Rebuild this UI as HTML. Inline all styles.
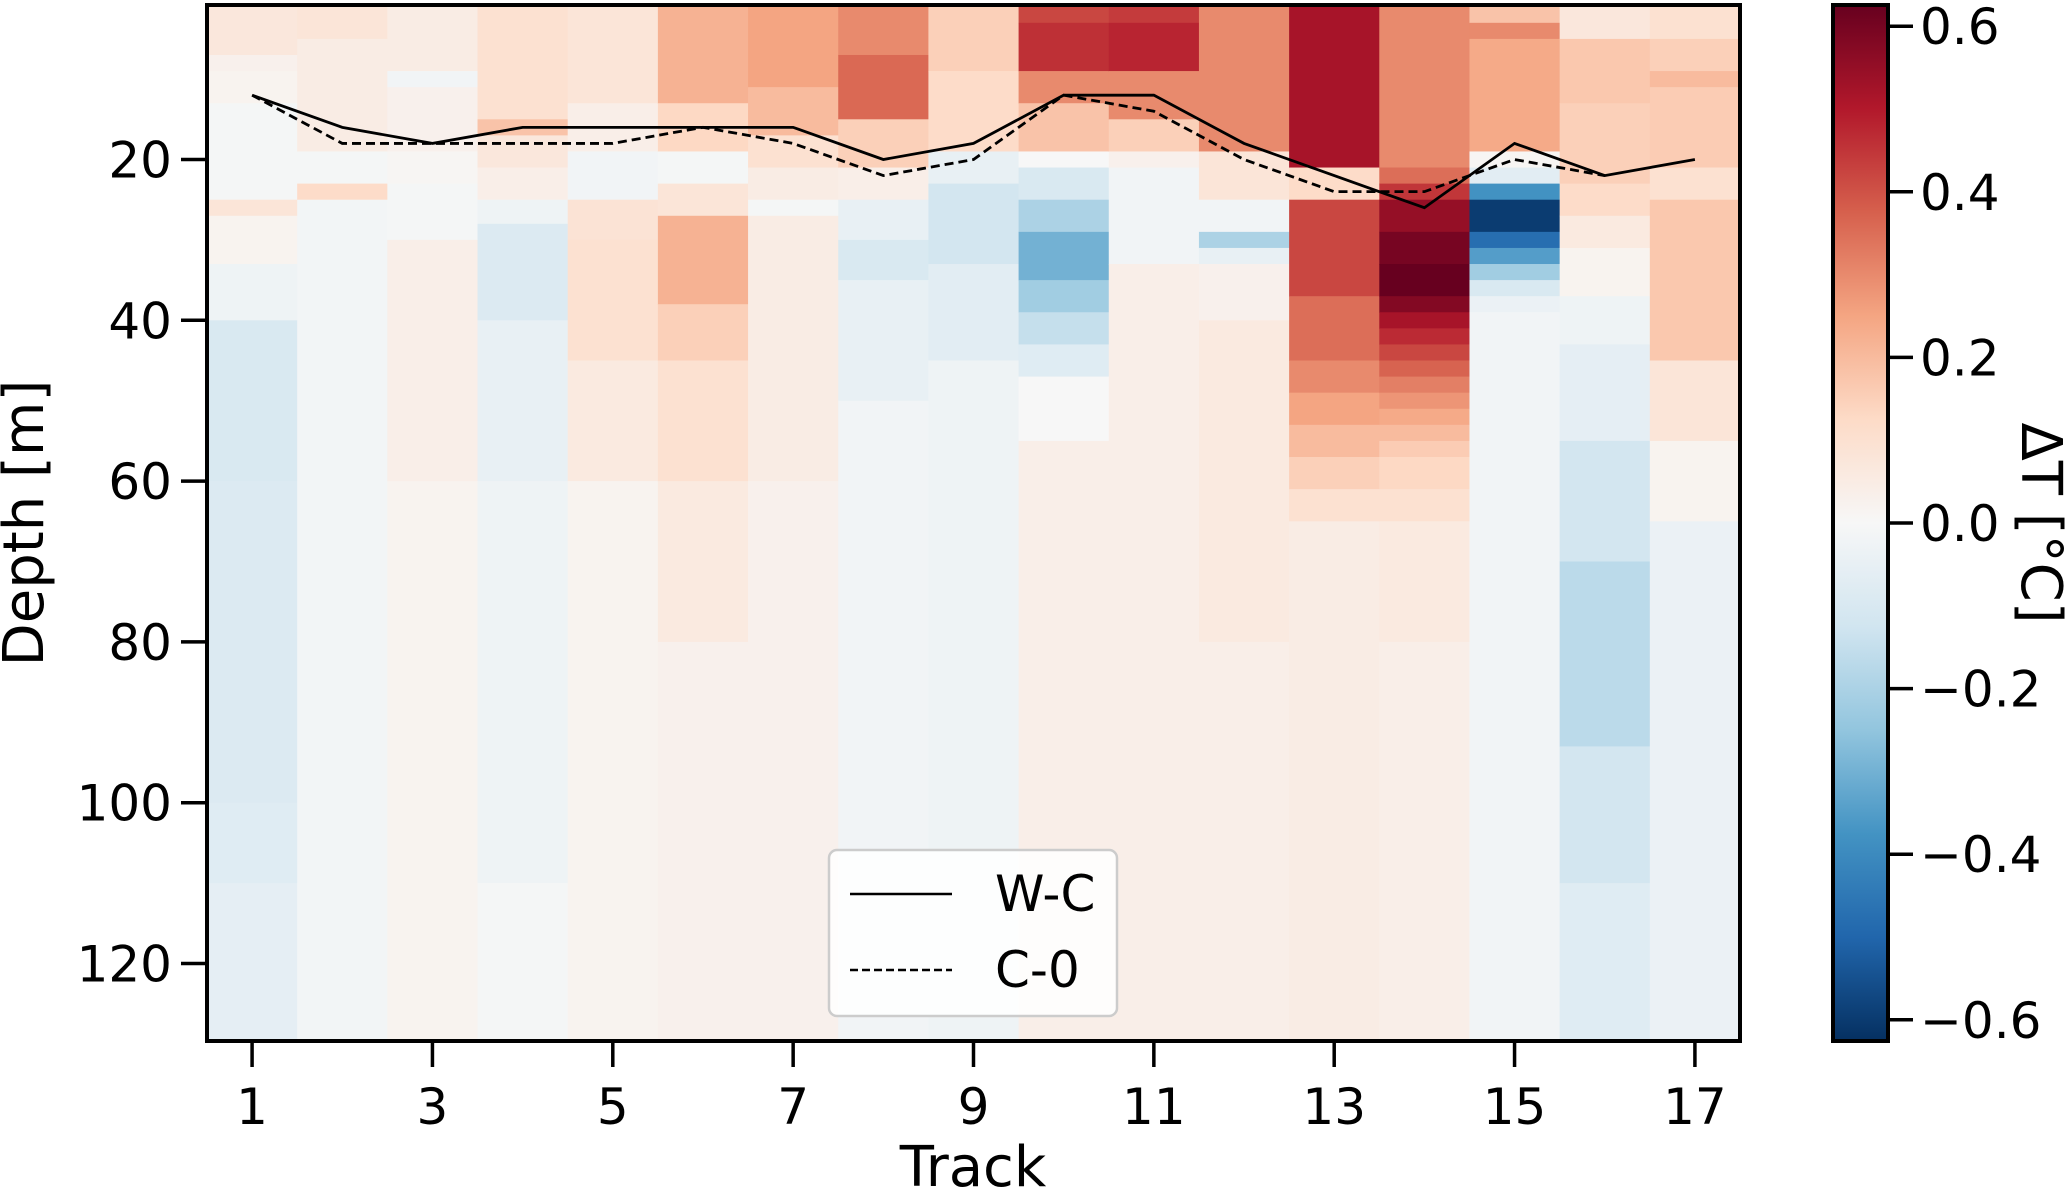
<!DOCTYPE html>
<html><head><meta charset="utf-8"><style>
html,body{margin:0;padding:0;background:#fff;}
svg{display:block;font-family:"DejaVu Sans","Liberation Sans",sans-serif;}
</style></head><body>
<svg id="chart" width="2067" height="1192" viewBox="0 0 2067 1192">
<defs>
<linearGradient id="cbgrad" x1="0" y1="1" x2="0" y2="0">
<stop offset="0" stop-color="#053061"/><stop offset="0.1" stop-color="#2166ac"/><stop offset="0.2" stop-color="#4393c3"/><stop offset="0.3" stop-color="#92c5de"/><stop offset="0.4" stop-color="#d1e5f0"/><stop offset="0.5" stop-color="#f7f7f7"/><stop offset="0.6" stop-color="#fddbc7"/><stop offset="0.7" stop-color="#f4a582"/><stop offset="0.8" stop-color="#d6604d"/><stop offset="0.9" stop-color="#b2182b"/><stop offset="1" stop-color="#67001f"/>
</linearGradient>
<clipPath id="plotclip"><rect x="207" y="5" width="1533" height="1036"/></clipPath>
</defs>
<g id="cells" clip-path="url(#plotclip)"></g>
<g id="lines" clip-path="url(#plotclip)"></g>
<rect x="207" y="5" width="1533" height="1036" fill="none" stroke="#000" stroke-width="4"/>
<g id="axes"></g>
<text x="28" y="523" font-size="56" text-anchor="middle" transform="rotate(-90 28 523)" dominant-baseline="middle">Depth [m]</text>
<text x="973" y="1186" font-size="56" text-anchor="middle">Track</text>
<g>
<rect x="829" y="850" width="288" height="166" rx="8" fill="#fff" fill-opacity="0.85" stroke="#ccc" stroke-width="2.5"/>
<line x1="850" y1="894" x2="952" y2="894" stroke="#000" stroke-width="2.5"/>
<text x="995" y="911" font-size="50">W-C</text>
<line x1="850" y1="970" x2="952" y2="970" stroke="#000" stroke-width="2.5" stroke-dasharray="8,4"/>
<text x="995" y="987" font-size="50">C-0</text>
</g>
<rect x="1833" y="5" width="55" height="1036" fill="url(#cbgrad)" stroke="#000" stroke-width="4"/>
<g id="cbaxis"></g>
<text x="2037" y="523" font-size="56" text-anchor="middle" transform="rotate(90 2037 523)" dominant-baseline="middle">ΔT [°C]</text>
</svg>
<script>
const tracks = [1,2,3,4,5,6,7,8,9,10,11,12,13,14,15,16,17];
const wcDepth = [12,16,18,16,16,16,16,20,18,12,12,18,22,26,18,22,20];
const c0Depth = [12,18,18,18,18,16,18,22,20,12,14,20,24,24,20,22];
const xTicks = [1,3,5,7,9,11,13,15,17];
const yTicks = [20,40,60,80,100,120];
const cbTicks = [0.6,0.4,0.2,0.0,-0.2,-0.4,-0.6];
const cbTickLabels = ["0.6","0.4","0.2","0.0","\u22120.2","\u22120.4","\u22120.6"];
// per-track depth segments [top, bottom, deltaT]
const deltaT = [
 [[0,7,0.07],[7,9,0.03],[9,13,0.02],[13,25,-0.01],[25,27,0.08],[27,33,0.02],[33,40,-0.03],[40,60,-0.1],[60,100,-0.09],[100,110,-0.08],[110,131,-0.06]],
 [[0,5,0.08],[5,19,0.05],[19,23,-0.01],[23,25,0.12],[25,131,-0.015]],
 [[0,9,0.05],[9,11,-0.02],[11,19,0.03],[19,23,0.01],[23,30,-0.01],[30,60,0.04],[60,131,0.02]],
 [[0,15,0.1],[15,17,0.18],[17,21,0.07],[21,25,0.04],[25,28,-0.03],[28,40,-0.09],[40,60,-0.05],[60,110,-0.03],[110,131,-0.01]],
 [[0,13,0.08],[13,19,0.04],[19,25,-0.02],[25,30,0.09],[30,45,0.1],[45,60,0.06],[60,131,0.02]],
 [[0,13,0.22],[13,19,0.13],[19,23,-0.01],[23,27,0.08],[27,38,0.22],[38,45,0.15],[45,60,0.1],[60,80,0.06],[80,131,0.03]],
 [[0,11,0.25],[11,17,0.2],[17,21,0.1],[21,25,0.05],[25,27,-0.01],[27,60,0.05],[60,131,0.03]],
 [[0,7,0.3],[7,15,0.36],[15,21,0.15],[21,25,0.04],[25,30,-0.05],[30,35,-0.1],[35,50,-0.05],[50,131,-0.02]],
 [[0,9,0.15],[9,19,0.12],[19,23,-0.05],[23,33,-0.12],[33,45,-0.07],[45,131,-0.03]],
 [[0,3,0.42],[3,9,0.46],[9,13,0.3],[13,19,0.18],[19,21,0.0],[21,25,-0.1],[25,29,-0.2],[29,35,-0.3],[35,39,-0.22],[39,43,-0.15],[43,47,-0.08],[47,55,0.0],[55,131,0.04]],
 [[0,3,0.44],[3,9,0.48],[9,15,0.3],[15,19,0.15],[19,21,0.03],[21,33,-0.02],[33,131,0.04]],
 [[0,19,0.3],[19,25,0.08],[25,29,-0.02],[29,31,-0.2],[31,33,-0.05],[33,40,0.03],[40,80,0.06],[80,131,0.04]],
 [[0,21,0.52],[21,25,0.12],[25,37,0.42],[37,45,0.35],[45,49,0.3],[49,53,0.25],[53,57,0.2],[57,61,0.15],[61,65,0.1],[65,131,0.05]],
 [[0,21,0.3],[21,23,0.35],[23,25,0.45],[25,29,0.55],[29,33,0.6],[33,37,0.63],[37,39,0.58],[39,41,0.52],[41,43,0.47],[43,45,0.42],[45,47,0.37],[47,49,0.32],[49,51,0.28],[51,53,0.24],[53,55,0.2],[55,57,0.16],[57,61,0.13],[61,65,0.1],[65,80,0.06],[80,131,0.04]],
 [[0,3,0.18],[3,5,0.3],[5,19,0.24],[19,21,0.01],[21,23,-0.07],[23,25,-0.38],[25,29,-0.6],[29,31,-0.48],[31,33,-0.35],[33,35,-0.22],[35,37,-0.1],[37,39,-0.04],[39,131,-0.02]],
 [[0,5,0.07],[5,13,0.17],[13,23,0.15],[23,27,0.12],[27,31,0.06],[31,37,0.02],[37,43,-0.03],[43,55,-0.06],[55,70,-0.12],[70,93,-0.17],[93,110,-0.12],[110,131,-0.08]],
 [[0,5,0.1],[5,9,0.15],[9,11,0.2],[11,21,0.16],[21,25,0.1],[25,45,0.17],[45,55,0.08],[55,65,0.02],[65,131,-0.04]]
];

const NS = "http://www.w3.org/2000/svg";
const X0 = 207, X1 = 1740, Y20 = 159.5, PXM = 8.04;
function xScale(t){ return X0 + (t - 0.5) * (X1 - X0) / 17; }
function yScale(d){ return Y20 + (d - 20) * PXM; }
function cbScale(v){ return 523 - v * 828; }
const cmap = ["#053061","#2166ac","#4393c3","#92c5de","#d1e5f0","#f7f7f7","#fddbc7","#f4a582","#d6604d","#b2182b","#67001f"];
function hex(c){ return [parseInt(c.slice(1,3),16),parseInt(c.slice(3,5),16),parseInt(c.slice(5,7),16)]; }
function color(v){
  let f = (v + 0.627) / 1.254; f = Math.max(0, Math.min(1, f));
  const p = f * 10, i = Math.min(9, Math.floor(p)), r = p - i;
  const a = hex(cmap[i]), b = hex(cmap[i+1]);
  return "rgb(" + a.map((q,k)=>Math.round(q + (b[k]-q)*r)).join(",") + ")";
}
function mk(tag, attrs, parent){
  const e = document.createElementNS(NS, tag);
  for (const k in attrs) e.setAttribute(k, attrs[k]);
  parent.appendChild(e); return e;
}
const cells = document.getElementById("cells");
tracks.forEach((t, i) => {
  deltaT[i].forEach(seg => {
    const r = mk("rect", {x: xScale(t - 0.5), y: yScale(seg[0]), width: xScale(t + 0.5) - xScale(t - 0.5) + 0.5, height: yScale(seg[1]) - yScale(seg[0]) + 0.5, fill: color(seg[2])}, cells);
    
    
  });
});
const lines = document.getElementById("lines");
const wc = mk("polyline", {points: wcDepth.map((d,i)=>xScale(tracks[i])+","+yScale(d)).join(" "), fill: "none", stroke: "#000", "stroke-width": 2.8}, lines);


const c0 = mk("polyline", {points: c0Depth.map((d,i)=>xScale(tracks[i])+","+yScale(d)).join(" "), fill: "none", stroke: "#000", "stroke-width": 2.8, "stroke-dasharray": "9,5"}, lines);



const axes = document.getElementById("axes");
xTicks.forEach(t => {
  const l = mk("line", {x1: xScale(t), x2: xScale(t), y1: 1041, y2: 1067, stroke: "#000", "stroke-width": 3.5}, axes);
  
  
  const tx = mk("text", {x: xScale(t), y: 1124, "font-size": 50, "text-anchor": "middle"}, axes);
  tx.textContent = t;
  
  
});
yTicks.forEach(d => {
  const l = mk("line", {x1: 181, x2: 207, y1: yScale(d), y2: yScale(d), stroke: "#000", "stroke-width": 3.5}, axes);
  
  
  const tx = mk("text", {x: 172, y: yScale(d) + 18, "font-size": 50, "text-anchor": "end"}, axes);
  tx.textContent = d;
  
  
});
const cba = document.getElementById("cbaxis");
cbTicks.forEach((v, i) => {
  const l = mk("line", {x1: 1888, x2: 1913, y1: cbScale(v), y2: cbScale(v), stroke: "#000", "stroke-width": 3.5}, cba);
  
  
  const tx = mk("text", {x: 1920, y: cbScale(v) + 18, "font-size": 50}, cba);
  tx.textContent = cbTickLabels[i];
  
  
});
</script>
</body></html>
